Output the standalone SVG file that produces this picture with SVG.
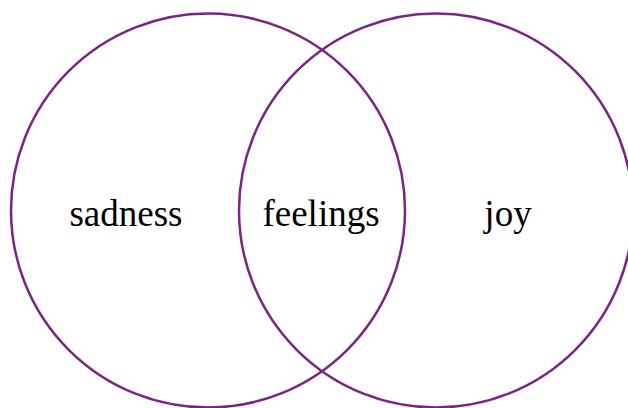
<svg xmlns="http://www.w3.org/2000/svg" width="628" height="408" viewBox="0 0 628 408">
<style>
.c{fill:none;stroke:#7b2582;stroke-width:2.5}
.t{font-family:"Liberation Serif","Times New Roman",serif;font-size:37px;fill:#000;text-anchor:middle}
</style>
<rect width="628" height="408" fill="#fff"/>
<g id="left"><circle class="c" cx="208" cy="210.5" r="197"/><text class="t" x="126" y="226">sadness</text></g>
<g id="right"><circle class="c" cx="436" cy="210.5" r="197"/><text class="t" x="508" y="226">joy</text></g>
<g id="overlap"><text class="t" x="321" y="226">feelings</text></g>
<g id="connectors"/>
</svg>
